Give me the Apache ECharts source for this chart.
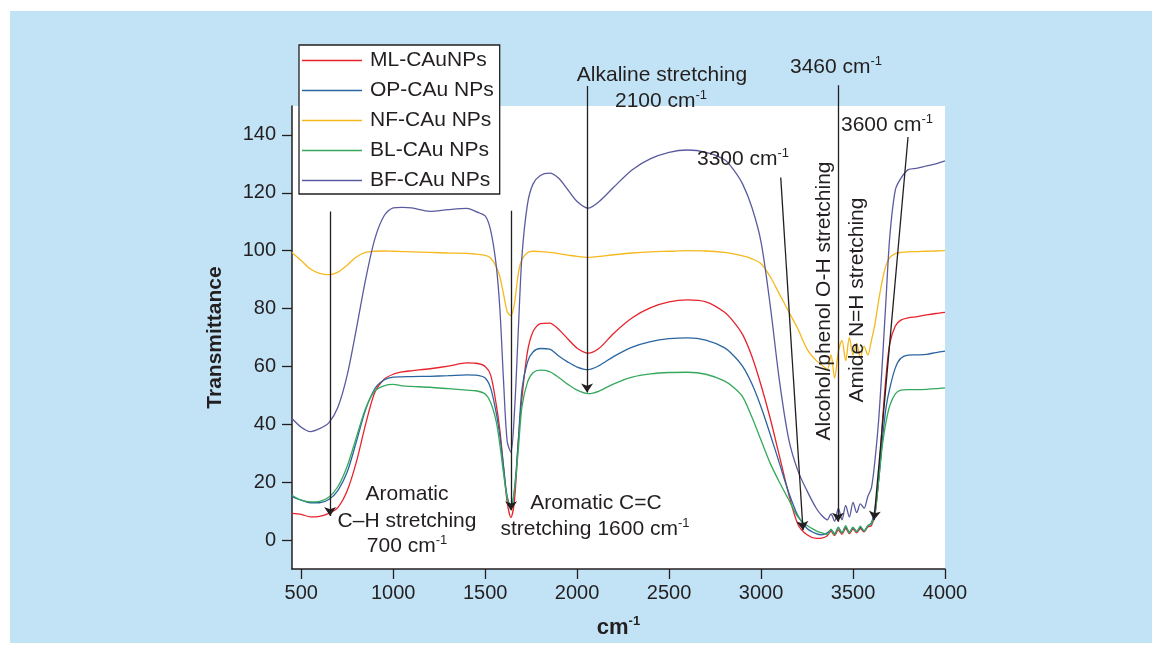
<!DOCTYPE html>
<html>
<head>
<meta charset="utf-8">
<script src="https://cdn.jsdelivr.net/npm/echarts@6/dist/echarts.min.js"></script>
<style>
  html, body { margin: 0; padding: 0; background: #fff; }
  #panel { position: absolute; left: 10px; top: 11px; width: 1142px; height: 632px; background: #c2e3f5; }
  #chart { position: absolute; left: 0; top: 0; width: 1162px; height: 653px; }
</style>
</head>
<body>
<div id="panel"></div>
<div id="chart"></div>
<script>
// wavenumber grid (cm-1) shared by every spectrum
const wavenumbers = [450, 500, 550, 600, 650, 700, 750, 800, 850, 900, 950, 1000, 1050, 1100, 1200, 1300, 1400, 1450, 1500, 1530,
  1560, 1580, 1600, 1620, 1640, 1660, 1680, 1700, 1730, 1760, 1800, 1850, 1900, 1950, 2000, 2060, 2120, 2200, 2300, 2400,
  2500, 2600, 2700, 2800, 2850, 2900, 2950, 3000, 3050, 3100, 3150, 3200, 3250, 3300, 3330, 3360, 3380, 3400, 3420, 3440,
  3460, 3480, 3500, 3520, 3540, 3560, 3580, 3600, 3620, 3640, 3660, 3680, 3700, 3730, 3760, 3800, 3850, 3900, 3950, 4000];

const mlValues = [9.2, 8.9, 8, 8.2, 9.2, 11.3, 17, 27, 40, 51, 55.5, 57.3, 58.1, 58.5, 59.2, 60.1, 61.2, 61.1, 60, 57,
  47, 38, 25.3, 13, 7.8, 14, 34, 49, 65, 72, 74.8, 75, 72.8, 69.5, 66.3, 64.6, 66.3, 71.5, 76.8, 80.3,
  82.3, 83, 82.3, 78.8, 75.5, 71, 63.5, 53.5, 42, 29, 16, 5.5, 1.8, 0.6, 0.7, 1.5, 3, 1.5, 3.5, 2,
  4, 2.2, 3.8, 2.5, 4, 2.8, 4.5, 5, 9, 22, 41, 57, 68, 74, 76, 76.8, 77.2, 77.8, 78.3, 78.7];

const opValues = [15, 13.8, 12.9, 12.9, 14, 17.2, 23.5, 34, 45, 52.3, 55.3, 56.3, 56.4, 56.5, 56.6, 56.8, 57.1, 57, 56, 52.5,
  44, 36, 25.3, 15, 11.5, 18, 34, 52, 61.5, 65, 66.2, 66, 63.6, 61.5, 59.8, 58.9, 60.3, 63.5, 66.7, 68.6,
  69.6, 69.9, 69.1, 66.5, 63.8, 60, 54, 46, 36.5, 26.5, 16.5, 8.5, 4, 2.2, 1.8, 2.5, 3.5, 2.2, 4.2, 2.6,
  4.5, 2.8, 4.2, 3, 4.4, 3.2, 4.8, 6, 11, 21, 35, 46, 52.5, 59.5, 62.8, 63.9, 64, 64.2, 64.8, 65.3];

const nfValues = [99.4, 96.6, 93.7, 92.2, 91.7, 92.6, 95, 97.8, 99.4, 99.8, 99.9, 99.8, 99.7, 99.6, 99.4, 99.2, 99.1, 98.8, 98.4, 97.5,
  94.5, 91, 85, 79, 77.5, 82, 92, 97, 99.3, 99.8, 99.7, 99.4, 99, 98.5, 98, 97.7, 98, 98.6, 99.2, 99.6,
  99.8, 100, 99.9, 99.4, 98.9, 98.2, 97.2, 95.5, 91, 85, 79, 73, 66, 62, 60.5, 59, 64, 56, 65, 69,
  62, 70, 64, 68, 63, 67, 64, 69, 75, 83, 90, 95, 97.7, 99, 99.4, 99.6, 99.7, 99.8, 99.9, 100];

const blValues = [15.5, 13.8, 13.2, 13.4, 14.8, 18.5, 25.5, 35.5, 45.5, 51.5, 53.3, 53.8, 53.3, 53.1, 52.8, 52.3, 51.8, 51.6, 50.5, 47.5,
  41, 33, 23, 14.5, 10.5, 17.5, 31, 46, 54.5, 57.8, 58.7, 58.2, 56.2, 53.8, 51.8, 50.6, 51.5, 54, 56.3, 57.4,
  57.9, 58, 57.3, 55, 52.8, 49.5, 42.5, 34.5, 26.5, 20, 14, 8, 5, 3.2, 2.5, 2, 3.8, 1.8, 4.5, 2.4,
  5, 2.5, 4.5, 2.8, 4.8, 3, 5, 5.5, 9.5, 21, 33, 41, 46.5, 50.5, 51.8, 52, 52, 52.1, 52.3, 52.6];

const bfValues = [42, 39, 37.5, 38.5, 40.5, 46, 57, 73, 90, 104, 112, 114.8, 115, 114.8, 113.6, 114.2, 114.6, 113.5, 112, 107,
  95, 80, 55, 34, 30.4, 45, 72, 98, 116, 123, 126, 126.8, 125, 121, 117, 114.7, 117, 122, 128, 131.8,
  134, 134.8, 134, 131.5, 128, 123, 115, 103, 81, 55, 35, 24, 17, 11, 8.5, 7, 9, 6.5, 11, 7,
  12, 8, 13, 9.5, 12.5, 11, 15, 18, 28, 42, 62, 84, 105, 121, 125, 128, 128.5, 129.3, 130, 131];

const seriesNames = ['ML-CAuNPs', 'OP-CAu NPs', 'NF-CAu NPs', 'BL-CAu NPs', 'BF-CAu NPs'];
const seriesValues = [mlValues, opValues, nfValues, blValues, bfValues];
const seriesColors = ['#e8222c', '#2b65a0', '#f6b81c', '#36a85c', '#5a5b9f'];

const xTicks = [500, 1000, 1500, 2000, 2500, 3000, 3500, 4000];
const yTicks = [0, 20, 40, 60, 80, 100, 120, 140];

// annotation arrows, [start, end] in data units
const arrows = [
  [[657, 113.5], [657, 8.3]],
  [[1641, 113.8], [1641, 10.3]],
  [[2054, 156.9], [2054, 51]],
  [[3107, 125.3], [3228, 3.4]],
  [[3418, 157.2], [3418, 6.3]],
  [[3799, 139.3], [3614, 6.9]]
];

const font = 'Liberation Sans, Arial, Helvetica, sans-serif';
const ink = '#231f20';

const chart = echarts.init(document.getElementById('chart'), null, { renderer: 'canvas' });

const rich = {
  a: { fontSize: 21, fontFamily: font, color: ink, lineHeight: 24 },
  s: { fontSize: 13, fontFamily: font, color: ink, verticalAlign: 'top', lineHeight: 14 }
};

function note(x, y, text, rotate) {
  return {
    type: 'text',
    x: x,
    y: y,
    rotation: rotate ? Math.PI / 2 : 0,
    z: 10,
    style: {
      text: text,
      rich: rich,
      align: 'center',
      verticalAlign: 'middle',
      fill: ink
    }
  };
}

let series = seriesNames.map(function (name, i) {
  return {
    name: name,
    type: 'line',
    symbol: 'none',
    smooth: 0.3,
    lineStyle: { width: 1.3, color: seriesColors[i] },
    itemStyle: { color: seriesColors[i] },
    data: wavenumbers.map(function (w, j) { return [w, seriesValues[i][j]]; })
  };
});

series.push({
  type: 'lines',
  coordinateSystem: 'cartesian2d',
  clip: false,
  z: 5,
  symbol: ['none', 'arrow'],
  symbolSize: 9,
  lineStyle: { color: ink, width: 1.3, opacity: 1 },
  data: arrows.map(function (a) { return { coords: a }; })
});

let option = {
  animation: false,
  textStyle: { fontFamily: font },
  grid: {
    left: 292,
    right: 217,
    top: 106,
    bottom: 84,
    show: true,
    backgroundColor: '#fff',
    borderWidth: 0
  },
  legend: {
    data: seriesNames,
    orient: 'vertical',
    left: 299,
    top: 45,
    icon: 'rect',
    itemWidth: 60,
    itemHeight: 1.5,
    itemGap: 9,
    padding: [5, 6, 3, 3],
    backgroundColor: '#fff',
    borderColor: ink,
    borderWidth: 1.3,
    borderRadius: 0,
    textStyle: { fontSize: 21, lineHeight: 21, color: ink, fontFamily: font, padding: [0, 0, 0, 3] }
  },
  xAxis: {
    type: 'value',
    min: 450,
    max: 4000,
    name: '{b|cm}{s|-1}',
    nameLocation: 'middle',
    nameGap: 46,
    nameTextStyle: {
      rich: {
        b: { fontSize: 22, fontWeight: 'bold', color: ink, fontFamily: font, lineHeight: 26 },
        s: { fontSize: 13, fontWeight: 'bold', color: ink, fontFamily: font, verticalAlign: 'top', lineHeight: 14 }
      }
    },
    axisLine: { onZero: false, lineStyle: { color: ink, width: 1.5 } },
    axisTick: { show: true, length: 10, customValues: xTicks, lineStyle: { color: ink, width: 1.3 } },
    axisLabel: {
      customValues: xTicks,
      fontSize: 20,
      color: ink,
      margin: 14,
      fontFamily: font,
      formatter: function (v) { return String(v); }
    },
    splitLine: { show: false }
  },
  yAxis: {
    type: 'value',
    min: -10,
    max: 150,
    name: 'Transmittance',
    nameLocation: 'middle',
    nameGap: 66,
    nameTextStyle: { fontSize: 21, fontWeight: 'bold', color: ink, fontFamily: font },
    axisLine: { show: true, onZero: false, lineStyle: { color: ink, width: 1.5 } },
    axisTick: { show: true, length: 10, customValues: yTicks, lineStyle: { color: ink, width: 1.3 } },
    axisLabel: {
      customValues: yTicks,
      fontSize: 20,
      color: ink,
      margin: 16,
      fontFamily: font,
      formatter: function (v) { return String(v); }
    },
    splitLine: { show: false }
  },
  graphic: [
    note(407, 494, '{a|Aromatic}'),
    note(407, 521, '{a|C–H stretching}'),
    note(407, 546, '{a|700 cm}{s|-1}'),
    note(596, 503, '{a|Aromatic C=C}'),
    note(595, 529, '{a|stretching 1600 cm}{s|-1}'),
    note(662, 75, '{a|Alkaline stretching}'),
    note(661, 101, '{a|2100 cm}{s|-1}'),
    note(743, 159, '{a|3300 cm}{s|-1}'),
    note(836, 67, '{a|3460 cm}{s|-1}'),
    note(887, 125, '{a|3600 cm}{s|-1}'),
    note(824, 301, '{a|Alcohol/phenol O-H stretching}', true),
    note(857, 300, '{a|Amide N=H stretching}', true)
  ],
  series: series
};

chart.setOption(option, true);
window.addEventListener('resize', function () { chart.resize(); });
</script>
</body>
</html>
